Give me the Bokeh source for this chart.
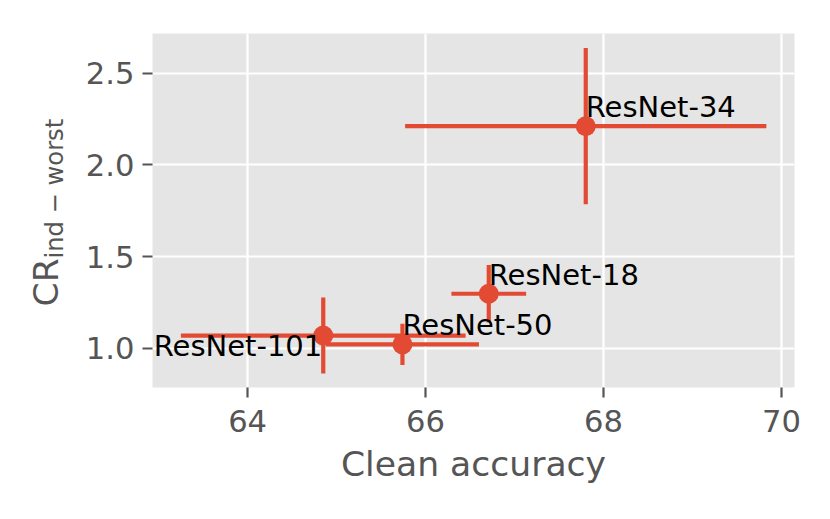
import numpy as np
from bokeh.plotting import figure
from bokeh.layouts import row
from bokeh.models import ColumnDataSource, FixedTicker, PrintfTickFormatter, Range1d, Label
from bokeh.core.properties import value
from bokeh.embed import file_html
from bokeh.resources import INLINE

# ---- data ----
models = ["ResNet-18", "ResNet-34", "ResNet-50", "ResNet-101"]
clean_acc = [66.71, 67.80, 65.74, 64.85]
clean_acc_err = [0.42, 2.03, 0.86, 1.60]
cr_worst = [1.297, 2.211, 1.021, 1.069]
cr_worst_err = [0.157, 0.426, 0.112, 0.207]
x_ticks = [64, 66, 68, 70]
y_ticks = [1.0, 1.5, 2.0, 2.5]
x_label = "Clean accuracy"
y_label_main = "CR"
y_label_sub = "ind \u2212 worst"

RED = "#E24A33"
GREY = "#555555"
FONT = "DejaVu Sans"
H = 503
LW = 80  # width of the y-label strip

acc = np.array(clean_acc)
acc_e = np.array(clean_acc_err)
cr = np.array(cr_worst)
cr_e = np.array(cr_worst_err)

src = ColumnDataSource(dict(
    name=models, x=acc, y=cr,
    x0=acc - acc_e, x1=acc + acc_e,
    y0=cr - cr_e, y1=cr + cr_e,
))

# ---- strip holding the rotated y-axis label (CR with subscript) ----
lab = figure(width=LW, height=H, output_backend="svg", toolbar_location=None,
             x_range=Range1d(0, LW), y_range=Range1d(0, H), min_border=0)
lab.axis.visible = False
lab.grid.visible = False
lab.outline_line_color = None
lab.background_fill_color = "white"
lab.border_fill_color = "white"
lab.add_layout(Label(x=45, y=306, x_units="canvas", y_units="canvas", angle=np.pi / 2,
                     text=y_label_main, text_font=FONT, text_font_size="34.6px",
                     text_color=GREY, text_align="left", text_baseline="alphabetic"))
lab.add_layout(Label(x=54.5, y=258, x_units="canvas", y_units="canvas", angle=np.pi / 2,
                     text=y_label_sub, text_font=FONT, text_font_size="24.2px",
                     text_color=GREY, text_align="left", text_baseline="alphabetic"))

# ---- main plot ----
p = figure(width=814 - LW, height=H, output_backend="svg", toolbar_location=None,
           x_range=Range1d(62.931, 70.146), y_range=Range1d(0.7856, 2.7166),
           min_border_left=152 - LW, min_border_right=20, min_border_top=33, min_border_bottom=116)

p.background_fill_color = "#E5E5E5"
p.border_fill_color = "white"
p.outline_line_color = None

for g in (p.xgrid, p.ygrid):
    g.grid_line_color = "white"
    g.grid_line_width = 2.2

p.xaxis.ticker = FixedTicker(ticks=x_ticks)
p.yaxis.ticker = FixedTicker(ticks=y_ticks)
p.yaxis.formatter = PrintfTickFormatter(format="%.1f")
for ax in (p.xaxis, p.yaxis):
    ax.axis_line_color = None
    ax.major_tick_out = 10
    ax.major_tick_in = 0
    ax.minor_tick_line_color = None
    ax.major_tick_line_color = GREY
    ax.major_tick_line_width = 2.2
    ax.major_label_text_color = GREY
    ax.major_label_text_font = FONT
    ax.major_label_text_font_size = "30.6px"
p.yaxis.major_label_standoff = 8
p.xaxis.major_label_standoff = 12

p.xaxis.axis_label = x_label
p.xaxis.axis_label_text_font = FONT
p.xaxis.axis_label_text_font_size = "34.6px"
p.xaxis.axis_label_text_font_style = "normal"
p.xaxis.axis_label_text_color = GREY
p.xaxis.axis_label_standoff = 9

# error bars and markers
p.segment(x0="x0", y0="y", x1="x1", y1="y", source=src, line_color=RED, line_width=4.2)
p.segment(x0="x", y0="y0", x1="x", y1="y1", source=src, line_color=RED, line_width=4.2)
p.scatter(x="x", y="y", source=src, size=20, fill_color=RED, line_color=None)

# text labels
idx_left = [i for i, m in enumerate(models) if m != "ResNet-101"]
idx_right = [i for i, m in enumerate(models) if m == "ResNet-101"]
src_l = ColumnDataSource(dict(x=acc[idx_left], y=cr[idx_left], t=[models[i] for i in idx_left]))
src_r = ColumnDataSource(dict(x=acc[idx_right], y=cr[idx_right], t=[models[i] for i in idx_right]))
p.text(x="x", y="y", text="t", source=src_l, text_font=value(FONT), text_font_size="29px",
       text_color="black", text_align="left", text_baseline="alphabetic", y_offset=-19)
p.text(x="x", y="y", text="t", source=src_r, text_font=value(FONT), text_font_size="29px",
       text_color="black", text_align="right", text_baseline="alphabetic", x_offset=-1, y_offset=10.5)

open("out.html", "w").write(file_html(row(lab, p), INLINE))
